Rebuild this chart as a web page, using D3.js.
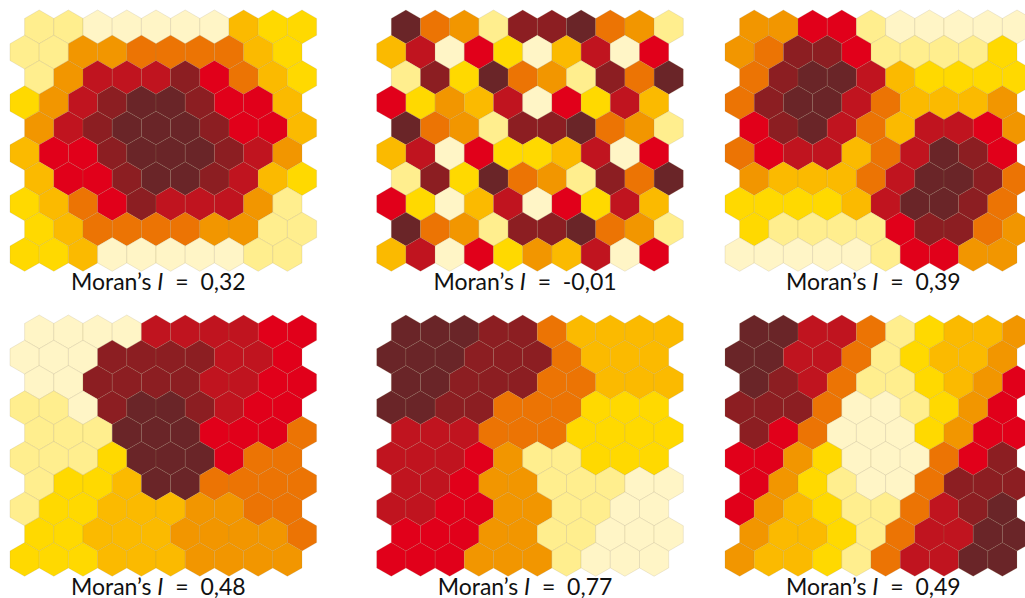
<!DOCTYPE html>
<html>
<head>
<meta charset="utf-8">
<script src="https://cdn.jsdelivr.net/npm/d3@7"></script>
<style>
  body { margin: 0; background: #fff; }
  text { font-family: Lato, "Open Sans", sans-serif; white-space: pre; }
</style>
</head>
<body>
<div id="chart"></div>
<script>
// ---- DATA ----
// colour classes, 0 = lightest ... 9 = darkest
const levels = [0, 1, 2, 3, 4, 5, 6, 7, 8, 9];
const levelColors = ["#FFF5C6", "#FFEE8E", "#FFD900", "#FBBA00", "#F29600",
                     "#EC7404", "#E1001A", "#C0141F", "#8C1E22", "#6A2528"];

const moranValues = ["0,32", "-0,01", "0,39", "0,48", "0,77", "0,49"];

// each grid: 10 rows x 10 hexagons, even rows shifted half a cell right
const gridA = [
  [1,1,0,0,0,0,0,3,2,2],
  [1,1,4,4,5,5,5,5,3,2],
  [1,4,7,7,7,8,6,5,3,2],
  [2,4,7,8,9,9,8,6,6,3],
  [4,7,8,9,9,9,8,6,6,3],
  [3,6,6,8,9,9,9,8,7,4],
  [3,6,6,8,9,9,8,7,3,2],
  [2,3,5,6,8,7,7,7,4,1],
  [2,3,5,5,5,5,4,4,1,1],
  [2,2,3,0,0,0,0,0,1,1]
];
const gridB = [
  [9,5,4,1,8,8,9,5,4,1],
  [3,7,0,6,2,0,3,7,0,6],
  [1,8,2,9,5,4,1,8,5,9],
  [6,2,4,3,7,0,6,2,7,3],
  [9,5,4,1,8,8,9,5,4,1],
  [3,7,0,6,2,2,3,7,0,6],
  [1,8,2,9,5,4,1,8,5,9],
  [6,2,0,3,7,0,6,2,7,3],
  [9,5,4,1,8,8,9,5,4,1],
  [3,7,0,6,2,4,3,7,0,6]
];
const gridC = [
  [4,4,6,6,1,0,0,0,0,0],
  [4,5,8,8,6,1,1,1,1,2],
  [5,8,9,9,7,3,2,2,2,2],
  [5,8,9,9,7,5,3,3,3,4],
  [6,8,9,7,5,3,7,7,6,4],
  [5,6,7,7,3,5,7,9,8,6],
  [4,3,3,3,5,7,9,9,8,5],
  [2,2,2,2,3,7,9,9,8,5],
  [2,1,1,1,1,6,8,8,5,4],
  [0,0,0,0,0,1,6,6,4,4]
];
const gridD = [
  [0,0,0,0,7,7,7,7,6,6],
  [0,0,0,8,8,8,8,7,7,6],
  [0,0,8,8,8,8,7,7,6,6],
  [1,1,0,8,9,9,8,7,6,6],
  [1,1,1,9,9,9,6,6,6,5],
  [1,1,1,2,9,9,9,6,5,5],
  [1,2,2,3,9,9,5,5,5,5],
  [1,2,2,3,3,3,4,4,5,5],
  [2,2,3,3,3,4,4,4,4,5],
  [2,2,2,3,3,3,4,4,4,4]
];
const gridE = [
  [9,9,9,8,8,5,3,3,3,3],
  [9,9,9,8,8,8,5,3,3,3],
  [9,9,8,8,8,5,5,3,3,3],
  [9,9,8,8,5,5,5,2,2,2],
  [7,7,7,5,5,5,2,2,2,2],
  [7,7,7,6,4,1,1,2,2,2],
  [7,7,6,4,4,1,1,1,0,0],
  [7,7,6,6,4,4,1,1,0,0],
  [6,6,6,4,4,1,1,0,0,0],
  [6,6,6,4,4,4,1,0,0,0]
];
const gridF = [
  [9,9,7,7,5,1,2,3,3,4],
  [9,9,7,7,5,1,2,3,3,4],
  [9,8,7,5,1,1,2,3,4,6],
  [8,8,8,5,0,0,1,2,4,6],
  [8,6,5,0,0,0,2,4,6,6],
  [6,6,4,2,0,0,0,5,6,8],
  [6,4,2,1,0,0,5,8,8,8],
  [6,4,3,2,1,1,5,7,8,9],
  [4,3,3,2,1,5,7,7,9,9],
  [4,3,3,2,1,5,7,7,9,9]
];
const grids = [gridA, gridB, gridC, gridD, gridE, gridF];

// ---- LAYOUT ----
const width = 1025;
const height = 598;
const hexW = 29.2;
const R = hexW / Math.sqrt(3);
const pitch = 1.5 * R;
const panelLeft = [10, 376.7, 725];
const panelTop = [10, 315];

const svg = d3.select("#chart")
  .append("svg")
  .attr("width", width)
  .attr("height", height);

const color = d3.scaleOrdinal().domain(levels).range(levelColors);

const hexPoints = d3.range(6).map(i => {
  const a = (Math.PI / 180) * (60 * i - 90);
  return [R * Math.cos(a), R * Math.sin(a)];
});
const hexPath = d3.line()(hexPoints) + "Z";

grids.forEach((grid, p) => {
  const left = panelLeft[p % 3];
  const top = panelTop[Math.floor(p / 3)];

  // column units: 0 .. 10.5 across the panel
  const x = d3.scaleLinear().domain([0, 10.5]).range([left, left + 10.5 * hexW]);
  const y = d3.scaleLinear().domain([0, 9]).range([top + R, top + R + 9 * pitch]);

  const cells = [];
  grid.forEach((row, r) => {
    row.forEach((v, c) => {
      cells.push({ r: r, c: c, v: v });
    });
  });

  const g = svg.append("g");

  g.selectAll("path")
    .data(cells)
    .enter()
    .append("path")
    .attr("transform", d => `translate(${x(d.c + 0.5 + (d.r % 2 === 0 ? 0.5 : 0))},${y(d.r)})`)
    .attr("d", hexPath)
    .attr("fill", d => color(d.v))
    .attr("stroke", "#9a8a60")
    .attr("stroke-opacity", 0.25)
    .attr("stroke-width", 0.7);

  // ---- LABEL ----
  const label = g.append("text")
    .attr("x", x(5.25) - 5)
    .attr("y", top + 279.5)
    .attr("text-anchor", "middle")
    .attr("font-size", 23)
    .attr("fill", "#111");
  label.append("tspan").text("Moran\u2019s ");
  label.append("tspan").attr("font-style", "italic").text("I");
  label.append("tspan").text("  =  " + moranValues[p]);
});
</script>
</body>
</html>
